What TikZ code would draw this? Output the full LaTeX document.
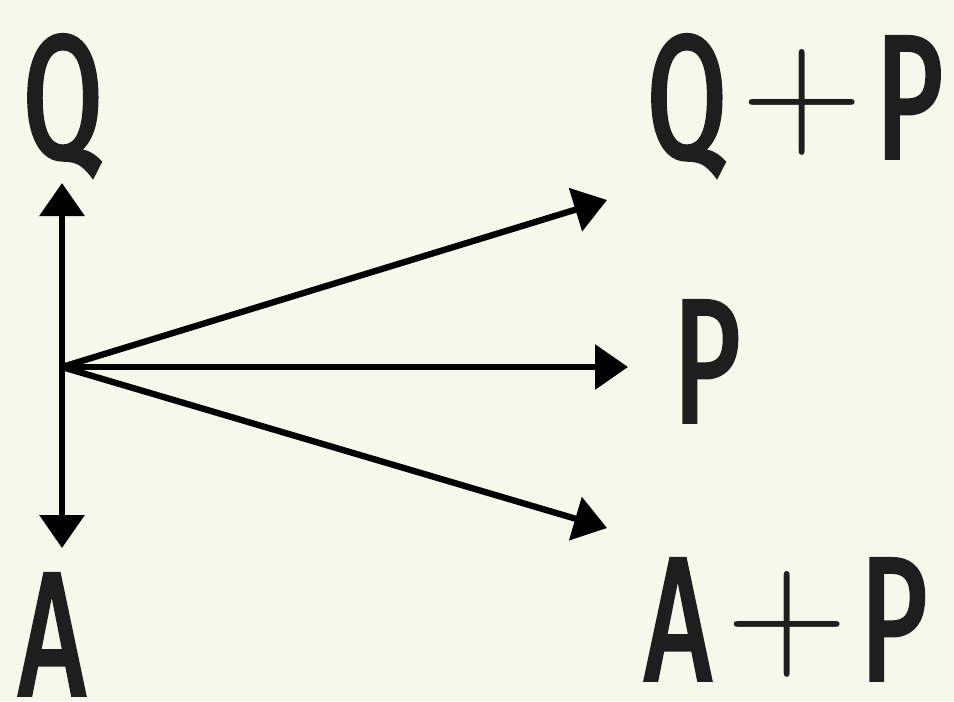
\documentclass[tikz,border=0pt]{standalone}
\usepackage{fontspec}
\usepackage{xcolor}
\usepackage{tikz}
\usetikzlibrary{
  arrows.meta,
  positioning,
  calc
}
\newfontfamily\lblfont[FakeStretch=0.66,FakeBold=2.2]{Fira Sans}
\definecolor{paper}{RGB}{247,248,236}
\definecolor{ink}{RGB}{30,30,30}
\newcommand{\lblplus}{\hspace{0.15cm}\raisebox{0.14cm}{\rmfamily\fontsize{48}{48}\selectfont +}\hspace{0.12cm}}

\begin{document}
\begin{tikzpicture}[
  lbl/.style={inner sep=0pt, text=ink, font=\lblfont\fontsize{50}{50}\selectfont},
  vec/.style={line width=1.8pt, -{Triangle[length=3.3mm,width=4.4mm]}}
]
  % background sheet
  \fill[paper] (0,0) rectangle (9.54,7.01);
  \useasboundingbox (0,0) rectangle (9.54,7.01);
  % labels
  \node[lbl, anchor=base west] (q)  at (0.22,5.43) {Q};
  \node[lbl, anchor=base west] (a)  at (0.18,0.06) {A};
  \node[lbl, anchor=base west] (p)  at (6.72,2.79) {P};
  \node[lbl, anchor=base west] (qp) at (6.46,5.43) {Q\lblplus P};
  \node[lbl, anchor=base west] (ap) at (6.44,0.21) {A\lblplus P};
  % origin and arrow tips
  \coordinate (o) at (0.62,3.34);
  \coordinate (up) at (0.62,5.18);
  \coordinate (down) at (0.62,1.53);
  \coordinate (tqp) at (6.07,5.01);
  \coordinate (tp) at (6.28,3.34);
  \coordinate (tap) at (6.07,1.73);
  % vectors
  \draw[vec] (o) -- (up);
  \draw[vec] (o) -- (down);
  \draw[vec] (o) -- (tqp);
  \draw[vec] (o) -- (tp);
  \draw[vec] (o) -- (tap);
\end{tikzpicture}
\end{document}
